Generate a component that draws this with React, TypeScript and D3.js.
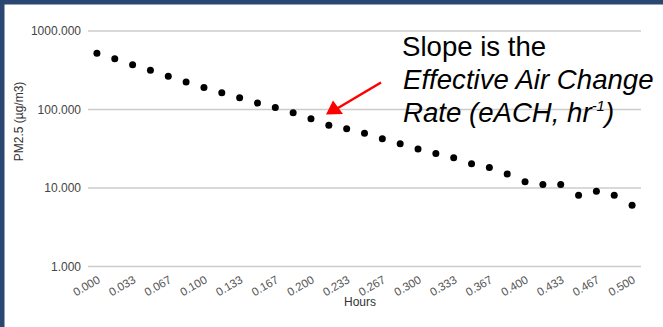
import React from "react";
import * as d3 from "d3";

const width = 663;
const height = 327;

// sample times (hours) and PM2.5 readings (µg/m3), one per minute
const hours = [
  "0.000", "0.017", "0.033", "0.050", "0.067", "0.083", "0.100", "0.117",
  "0.133", "0.150", "0.167", "0.183", "0.200", "0.217", "0.233", "0.250",
  "0.267", "0.283", "0.300", "0.317", "0.333", "0.350", "0.367", "0.383",
  "0.400", "0.417", "0.433", "0.450", "0.467", "0.483", "0.500",
];
const pm25 = [
  520, 444, 372, 316, 265, 224, 191, 163, 141, 121, 106, 91, 76, 63, 57, 50,
  42.5, 36.6, 31.3, 27.5, 24.3, 20.3, 18.2, 15.1, 12.0, 11.1, 11.1, 8.1, 9.1,
  8.1, 6.05,
];
const xTicks = [
  "0.000", "0.033", "0.067", "0.100", "0.133", "0.167", "0.200", "0.233",
  "0.267", "0.300", "0.333", "0.367", "0.400", "0.433", "0.467", "0.500",
];
const yTicks = [1, 10, 100, 1000];

const font = "Arial, 'Liberation Sans', sans-serif";

export default function App() {
  const x = d3.scaleBand().domain(hours).range([88, 641]);
  const y = d3.scaleLog().domain([1, 1000]).range([266.5, 31]);
  const cx = (h: string) => (x(h) as number) + x.bandwidth() / 2;

  return (
    <div style={{ position: "fixed", left: 0, top: 0 }}>
      <svg width={width} height={height} style={{ display: "block" }}>
        <rect width={width} height={height} fill="#fff" />
        <rect x={0} y={0} width={width} height={4.5} fill="#2b4671" />
        <rect x={0} y={0} width={4.5} height={height} fill="#2b4671" />

        {yTicks.map((t) => (
          <g key={t}>
            <line x1={88} x2={641} y1={y(t)} y2={y(t)} stroke="#cccccc" strokeWidth={1.3} />
            <text x={81} y={y(t) + 4} textAnchor="end" fontFamily={font} fontSize={12} fill="#444">
              {d3.format(".3f")(t)}
            </text>
          </g>
        ))}

        {xTicks.map((t) => (
          <text
            key={t}
            transform={`translate(${cx(t) + 4},${282}) rotate(-30)`}
            textAnchor="end"
            fontFamily={font}
            fontSize={11.5}
            fill="#555"
          >
            {t}
          </text>
        ))}

        <text x={360} y={306} textAnchor="middle" fontFamily={font} fontSize={12} fill="#333">
          Hours
        </text>
        <text
          transform="translate(23,121.5) rotate(-90)"
          textAnchor="middle"
          fontFamily={font}
          fontSize={12}
          fill="#333"
        >
          PM2.5 (µg/m3)
        </text>

        {hours.map((h, i) => (
          <circle key={h} cx={cx(h)} cy={y(pm25[i])} r={3.5} fill="#000" />
        ))}

        <g fontFamily={font} fontSize={27.6} fill="#000">
          <text x={402} y={56}>Slope is the</text>
          <text x={403} y={89} fontStyle="italic">Effective Air Change</text>
          <text x={403} y={122} fontStyle="italic">
            Rate (eACH, hr
            <tspan fontSize={15} dy={-11}>-1</tspan>
            <tspan dy={11}>)</tspan>
          </text>
        </g>

        <line x1={381} y1={82.5} x2={338} y2={108} stroke="#ff0000" strokeWidth={2.5} />
        <path d="M326,114.5 L333,100.5 L343,114 Z" fill="#ff0000" />
      </svg>
    </div>
  );
}
